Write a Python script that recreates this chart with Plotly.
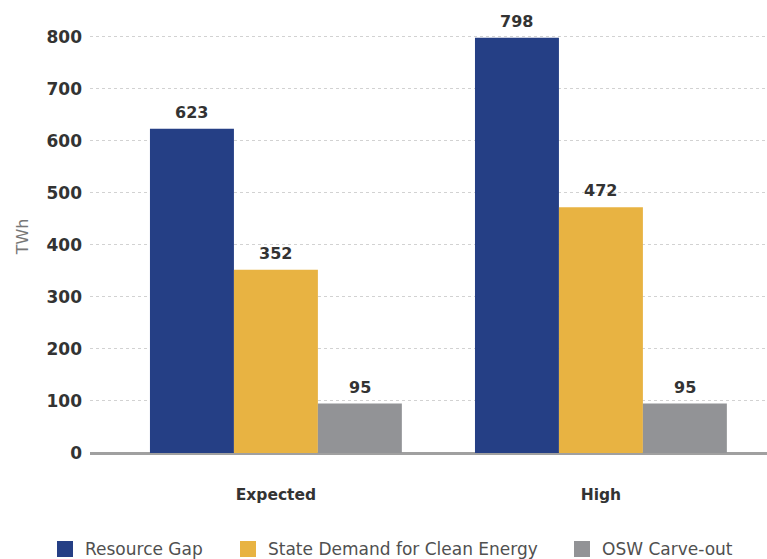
import plotly.graph_objects as go

scenarios = ["Expected", "High"]
resource_gap = [623, 798]
state_demand = [352, 472]
osw_carveout = [95, 95]

series = [
    ("Resource Gap", resource_gap, "#253F85"),
    ("State Demand for Clean Energy", state_demand, "#E8B342"),
    ("OSW Carve-out", osw_carveout, "#929396"),
]

FONT = "DejaVu Sans"
BARGAP = 0.225
N = len(series)
bar_w = (1 - BARGAP) / N  # width of one bar in category units

fig = go.Figure()
for k, (name, vals, color) in enumerate(series):
    fig.add_trace(go.Bar(
        x=scenarios, y=vals, name=name, showlegend=False,
        marker=dict(color=color, line=dict(width=0)),
    ))
    # value labels above each bar
    for i, v in enumerate(vals):
        fig.add_annotation(
            x=i + (k - (N - 1) / 2) * bar_w, y=v, xref="x", yref="y",
            text=str(v), showarrow=False, yanchor="bottom", yshift=5,
            font=dict(family=FONT, size=16, color="#333333", weight="bold"),
        )

# legend drawn as swatches + labels under the chart
legend_left_px = [57, 240, 574]
plot_l, plot_w, plot_b, plot_h = 90, 677, 453, 433
for (name, vals, color), lx in zip(series, legend_left_px):
    fig.add_shape(
        type="rect", xref="paper", yref="paper",
        x0=(lx - plot_l) / plot_w, x1=(lx + 16 - plot_l) / plot_w,
        y0=(plot_b - 541) / plot_h, y1=(plot_b - 557) / plot_h,
        fillcolor=color, line=dict(width=0),
    )
    fig.add_annotation(
        xref="paper", yref="paper",
        x=(lx + 26 - plot_l) / plot_w, y=(plot_b - 549) / plot_h,
        xanchor="left", yanchor="middle", showarrow=False, text=name,
        font=dict(family=FONT, size=17, color="#505050"),
    )

fig.update_layout(
    width=767, height=559,
    margin=dict(l=plot_l, r=0, t=20, b=559 - plot_b),
    paper_bgcolor="white", plot_bgcolor="white",
    barmode="group", bargap=BARGAP, bargroupgap=0,
    font=dict(family=FONT, color="#333333"),
    showlegend=False,
)

fig.update_xaxes(
    type="category", range=[-0.572, 1.511],
    showline=False, showgrid=False, ticks="",
    tickfont=dict(family=FONT, size=15.5, color="#333333", weight="bold"),
    ticklabelstandoff=30,
)
fig.update_yaxes(
    range=[0, 832], tickvals=[0, 100, 200, 300, 400, 500, 600, 700, 800],
    showgrid=True, gridcolor="#d2d2d2", griddash="3px,3px", gridwidth=1,
    zeroline=True, zerolinecolor="#a0a0a0", zerolinewidth=3,
    showline=False, ticks="",
    tickfont=dict(family=FONT, size=17, color="#333333", weight="bold"),
    ticklabelstandoff=7,
    title=dict(text="TWh", font=dict(family=FONT, size=16, color="#777777"), standoff=13),
)

fig.write_html("out.html")
